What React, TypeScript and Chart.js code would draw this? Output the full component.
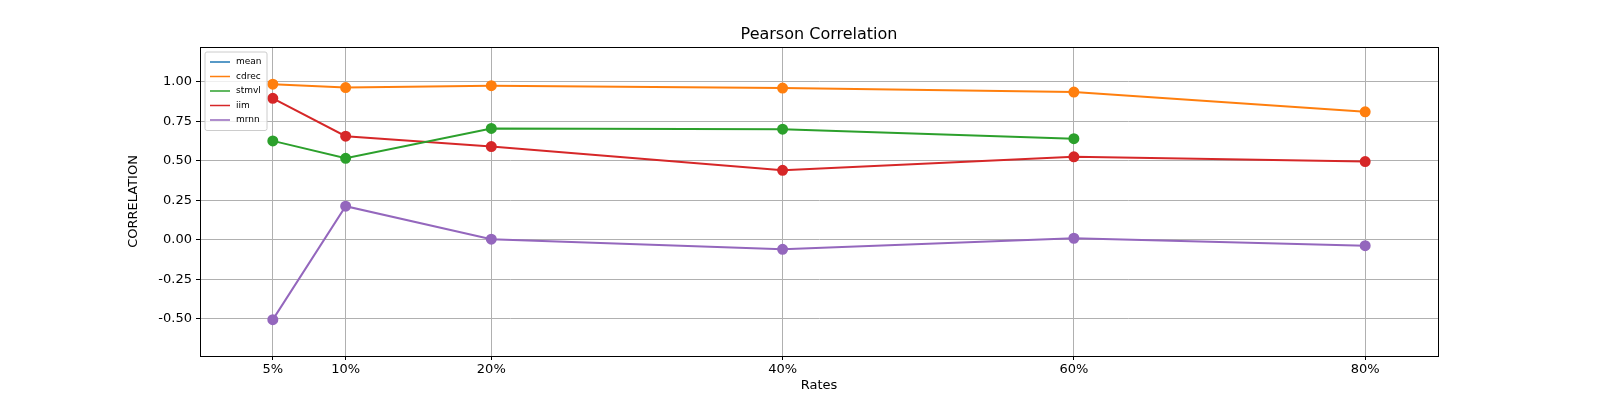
import { useEffect, useRef } from 'react';
import { Chart, registerables } from 'chart.js';

Chart.register(...registerables);

const rates = [5, 10, 20, 40, 60, 80];
const seriesNames = ['mean', 'cdrec', 'stmvl', 'iim', 'mrnn'];
const colors = ['#1f77b4', '#ff7f0e', '#2ca02c', '#d62728', '#9467bd'];
const meanValues: number[] = [];
const cdrecValues = [0.985, 0.963, 0.975, 0.96, 0.935, 0.81];
const stmvlValues = [0.626, 0.516, 0.705, 0.70, 0.64];
const iimValues = [0.895, 0.656, 0.59, 0.44, 0.525, 0.495];
const mrnnValues = [-0.505, 0.213, 0.004, -0.06, 0.01, -0.037];
const yTicks = [-0.5, -0.25, 0, 0.25, 0.5, 0.75, 1.0];

const font = 'DejaVu Sans';

const overlay = {
  id: 'overlay',
  afterDraw(chart: any) {
    const { ctx, chartArea: a } = chart;
    ctx.save();
    ctx.strokeStyle = '#000';
    ctx.lineWidth = 1;
    ctx.strokeRect(a.left + 0.5, a.top + 0.5, a.right - a.left, a.bottom - a.top);
    ctx.fillStyle = '#000';
    ctx.font = `16px "${font}"`;
    ctx.textAlign = 'center';
    ctx.textBaseline = 'alphabetic';
    ctx.fillText('Pearson Correlation', (a.left + a.right) / 2, 39);
    ctx.font = `13px "${font}"`;
    ctx.fillText('Rates', (a.left + a.right) / 2, 389);
    ctx.save();
    ctx.translate(137, (a.top + a.bottom) / 2);
    ctx.rotate(-Math.PI / 2);
    ctx.fillText('CORRELATION', 0, 0);
    ctx.restore();
    // legend
    const x0 = a.left + 5, y0 = a.top + 5, rowH = 14.5;
    ctx.fillStyle = 'rgba(255,255,255,0.8)';
    ctx.strokeStyle = '#ccc';
    ctx.beginPath();
    ctx.roundRect(x0, y0, 62, rowH * seriesNames.length + 6, 2);
    ctx.fill();
    ctx.stroke();
    ctx.font = `9px "${font}"`;
    ctx.textAlign = 'left';
    ctx.textBaseline = 'middle';
    seriesNames.forEach((n, i) => {
      const y = y0 + 10 + i * rowH;
      ctx.strokeStyle = colors[i];
      ctx.lineWidth = 1.5;
      ctx.beginPath();
      ctx.moveTo(x0 + 5, y);
      ctx.lineTo(x0 + 25, y);
      ctx.stroke();
      ctx.fillStyle = '#000';
      ctx.fillText(n, x0 + 31, y);
    });
    ctx.restore();
  },
};

export default function App() {
  const chartRef = useRef<HTMLCanvasElement>(null);

  useEffect(() => {
    document.body.style.margin = '0';
    const all = [meanValues, cdrecValues, stmvlValues, iimValues, mrnnValues];
    const chart = new Chart(chartRef.current!, {
      type: 'line',
      data: {
        datasets: all.map((vals, i) => ({
          label: seriesNames[i],
          data: vals.map((v, j) => ({ x: rates[j], y: v })),
          borderColor: colors[i],
          backgroundColor: colors[i],
          borderWidth: 2,
          pointRadius: 4.5,
          pointHoverRadius: 4.5,
          tension: 0,
        })),
      },
      options: {
        animation: false,
        responsive: false,
        layout: { padding: { left: 0, top: 47, right: 162, bottom: 0 } },
        plugins: { legend: { display: false }, title: { display: false }, tooltip: { enabled: false } },
        scales: {
          x: {
            type: 'linear',
            min: 0,
            max: 85,
            afterBuildTicks: (s: any) => { s.ticks = rates.map((v) => ({ value: v })); },
            afterFit: (s: any) => { s.height = 44; },
            ticks: { callback: (v: any) => v + '%', color: '#000', font: { family: font, size: 13 }, maxRotation: 0, padding: 2 },
            grid: { color: '#b0b0b0', tickLength: 4, tickColor: '#000' },
            border: { color: '#000' },
          },
          y: {
            min: -0.735,
            max: 1.22,
            afterBuildTicks: (s: any) => { s.ticks = yTicks.map((v) => ({ value: v })); },
            afterFit: (s: any) => { s.width = 200; },
            ticks: { callback: (v: any) => Number(v).toFixed(2), color: '#000', font: { family: font, size: 13 }, padding: 4 },
            grid: { color: '#b0b0b0', tickLength: 4, tickColor: '#000' },
            border: { color: '#000' },
          },
        },
      },
      plugins: [overlay],
    });
    return () => chart.destroy();
  }, []);

  return <canvas ref={chartRef} width={1600} height={400} style={{ display: 'block' }} />;
}
